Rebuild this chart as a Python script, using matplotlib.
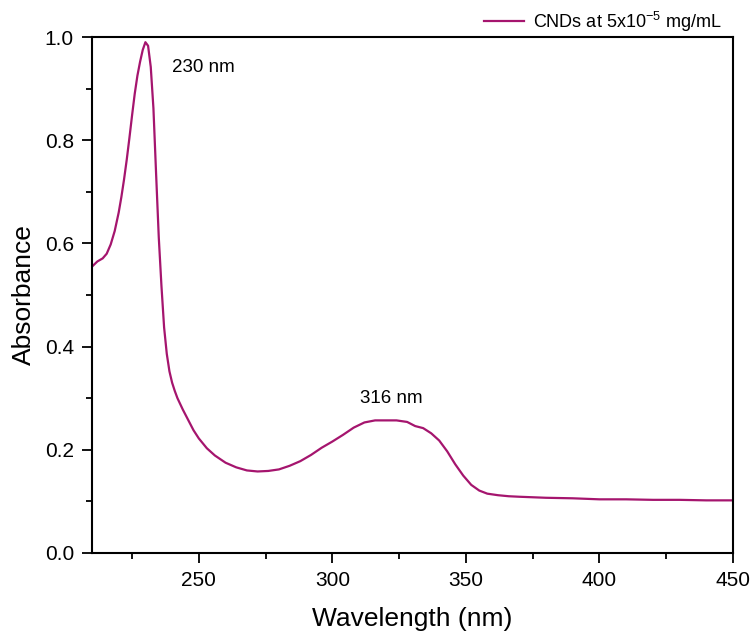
import matplotlib
matplotlib.use('Agg')
import matplotlib.pyplot as plt
from matplotlib.ticker import MultipleLocator, FormatStrFormatter

plt.rcParams['font.family'] = ['Liberation Sans', 'DejaVu Sans']
plt.rcParams['mathtext.default'] = 'regular'

# UV-Vis spectrum
wavelength = [210, 212, 214, 215.5, 217, 218.5, 220, 221, 222, 223, 224, 225, 226, 227,
              228, 229, 230, 231, 232, 233, 234, 235, 236, 237, 238, 239, 240, 241,
              242, 244, 246, 248, 250, 253, 256, 260, 264, 268, 272, 276, 280, 284,
              288, 292, 296, 300, 304, 308, 312, 316, 320, 324, 328, 331, 334, 337,
              340, 343, 346, 349, 352, 355, 358, 362, 366, 370, 375, 380, 390, 400,
              410, 420, 430, 440, 450]
absorbance = [0.555, 0.565, 0.571, 0.580, 0.598, 0.624, 0.660, 0.690, 0.724, 0.762,
              0.804, 0.848, 0.890, 0.925, 0.952, 0.975, 0.990, 0.983, 0.942, 0.862,
              0.735, 0.612, 0.518, 0.437, 0.386, 0.352, 0.330, 0.314, 0.300, 0.278,
              0.258, 0.238, 0.222, 0.203, 0.189, 0.175, 0.166, 0.160, 0.158, 0.159,
              0.162, 0.169, 0.178, 0.190, 0.204, 0.216, 0.229, 0.243, 0.253, 0.257,
              0.257, 0.257, 0.254, 0.246, 0.242, 0.232, 0.218, 0.197, 0.172, 0.150,
              0.132, 0.121, 0.115, 0.112, 0.110, 0.109, 0.108, 0.107, 0.106, 0.104,
              0.104, 0.103, 0.103, 0.102, 0.102]

series_label = 'CNDs at 5x10$^{-5}$ mg/mL'
peak_labels = ['230 nm', '316 nm']
peak_pos = [(240, 0.94), (310.3, 0.30)]

fig = plt.figure(figsize=(7.51, 6.33), dpi=100)
ax = fig.add_axes([0.1225, 0.1264, 0.8535, 0.8151])

line, = ax.plot(wavelength, absorbance, color='#a5156e', lw=1.6, label=series_label)

for txt, (x, y) in zip(peak_labels, peak_pos):
    ax.text(x, y, txt, fontsize=13.5, ha='left', va='center')

ax.set_xlim(210, 450)
ax.set_ylim(0, 1.0)
ax.xaxis.set_major_locator(MultipleLocator(50))
ax.xaxis.set_minor_locator(MultipleLocator(25))
ax.yaxis.set_major_locator(MultipleLocator(0.2))
ax.yaxis.set_minor_locator(MultipleLocator(0.1))
ax.yaxis.set_major_formatter(FormatStrFormatter('%.1f'))

ax.tick_params(which='major', direction='out', length=7, width=1.3, labelsize=15, pad=6)
ax.tick_params(which='minor', direction='out', length=4, width=1.3)
for s in ax.spines.values():
    s.set_linewidth(1.5)

ax.set_xlabel('Wavelength (nm)', fontsize=19, labelpad=12.5)
ax.set_ylabel('Absorbance', fontsize=19, labelpad=6)

fig.legend(handles=[line], loc='center right', bbox_to_anchor=(0.982, 0.966),
           frameon=False, fontsize=13, handlelength=2.2, handletextpad=0.5)

fig.savefig('out.png', dpi=100)
